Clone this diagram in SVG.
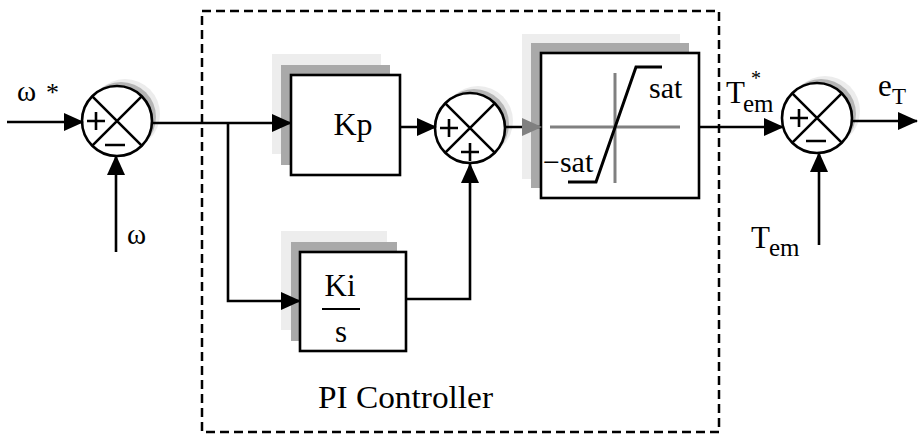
<svg xmlns="http://www.w3.org/2000/svg" width="918" height="434" viewBox="0 0 918 434">
<style>
.ln{fill:none;stroke:#000;stroke-width:2.6}
.box{fill:#fff;stroke:#000;stroke-width:2.6}
.sh1{fill:#ededed;stroke:none}
.sh2{fill:#a9a9a9;stroke:none}
.cs1{fill:#ececec;stroke:none}
.cs2{fill:#b5b5b5;stroke:none}
.sum{fill:#fff;stroke:#000;stroke-width:2.6}
.t{font-family:"Liberation Serif","Times New Roman",serif;fill:#000}
.ax{stroke:#808080;stroke-width:3;fill:none}
</style>
<defs>
<marker id="ah" markerUnits="userSpaceOnUse" markerWidth="20" markerHeight="18" refX="19" refY="9" orient="auto">
<path d="M0,0 L20,9 L0,18 z" fill="#000"/>
</marker>
<marker id="ahg" markerUnits="userSpaceOnUse" markerWidth="20" markerHeight="18" refX="19" refY="9" orient="auto">
<path d="M0,0 L20,9 L0,18 z" fill="#808080"/>
</marker>
</defs>
<rect x="0" y="0" width="918" height="434" fill="#fff"/>

<g id="pi-frame">
<rect x="202" y="11" width="517" height="421" fill="none" stroke="#000" stroke-width="2.5" stroke-dasharray="9,5"/>
<text class="t" x="318" y="408" font-size="31" textLength="175" lengthAdjust="spacingAndGlyphs">PI Controller</text>
</g>

<g id="sum1">
<circle class="cs1" cx="125" cy="114" r="35"/>
<circle class="cs2" cx="121" cy="117" r="35"/>
<circle class="sum" cx="117" cy="121" r="35"/>
<path class="ln" d="M92.3,96.3 L141.7,145.7 M141.7,96.3 L92.3,145.7"/>
<path class="ln" d="M87,121 H105 M96,112 V130 M105,145 H125"/>
</g>

<g id="kp">
<rect class="sh1" x="272" y="54" width="109" height="100"/>
<rect class="sh2" x="281" y="65" width="109" height="100"/>
<rect class="box" x="291" y="75" width="109" height="100"/>
<text class="t" x="353" y="135" font-size="32" text-anchor="middle">Kp</text>
</g>

<g id="ki">
<rect class="sh1" x="281" y="231" width="106" height="99"/>
<rect class="sh2" x="291" y="242" width="106" height="99"/>
<rect class="box" x="300" y="252" width="106" height="99"/>
<text class="t" x="340" y="296" font-size="31" text-anchor="middle">Ki</text>
<line x1="322" y1="309" x2="360" y2="309" stroke="#000" stroke-width="2.2"/>
<text class="t" x="341" y="342" font-size="31" text-anchor="middle">s</text>
</g>

<g id="sum2">
<circle class="cs1" cx="478" cy="121" r="35"/>
<circle class="cs2" cx="474" cy="124" r="35"/>
<circle class="sum" cx="470" cy="128" r="35"/>
<path class="ln" d="M445.3,103.3 L494.7,152.7 M494.7,103.3 L445.3,152.7"/>
<path class="ln" d="M440,128 H458 M449,119 V137 M461,152 H479 M470,143 V161"/>
</g>

<g id="sat">
<rect class="sh1" x="522" y="34" width="158" height="145"/>
<rect class="sh2" x="531" y="43" width="158" height="145"/>
<rect class="box" x="541" y="53" width="158" height="145"/>
<line class="ax" x1="550" y1="127" x2="680" y2="127"/>
<line class="ax" x1="615" y1="73" x2="615" y2="183"/>
<path d="M568,182 H596 L636,67 H662" fill="none" stroke="#000" stroke-width="3"/>
<text class="t" x="649" y="98" font-size="30">sat</text>
<text class="t" x="543" y="172" font-size="30">−sat</text>
</g>

<g id="sum3">
<circle class="cs1" cx="825" cy="111" r="35"/>
<circle class="cs2" cx="821" cy="114" r="35"/>
<circle class="sum" cx="817" cy="118" r="35"/>
<path class="ln" d="M792.3,93.3 L841.7,142.7 M841.7,93.3 L792.3,142.7"/>
<path class="ln" d="M790,118 H808 M799,109 V127 M806,141 H826"/>
</g>

<g id="connectors">
<path class="ln" d="M7,122 H83" marker-end="url(#ah)"/>
<path class="ln" d="M116,252 V156" marker-end="url(#ah)"/>
<path class="ln" d="M152,123 H291" marker-end="url(#ah)"/>
<path class="ln" d="M228,123 V301 H300" marker-end="url(#ah)"/>
<path class="ln" d="M400,127 H436" marker-end="url(#ah)"/>
<path class="ln" d="M406,299 H470 V164" marker-end="url(#ah)"/>
<path class="ln" d="M505,127 H541" marker-end="url(#ahg)"/>
<path class="ln" d="M699,127 H783" marker-end="url(#ah)"/>
<path class="ln" d="M819,245 V153" marker-end="url(#ah)"/>
<path class="ln" d="M852,121 H917" marker-end="url(#ah)"/>
</g>

<g id="labels">
<text class="t" x="17" y="101" font-size="29">ω</text>
<text class="t" x="46" y="101" font-size="26">*</text>
<text class="t" x="127" y="244" font-size="29">ω</text>
<text class="t" x="726" y="103" font-size="31">T</text>
<text class="t" x="743" y="112" font-size="25">em</text>
<text class="t" x="751" y="85" font-size="20">*</text>
<text class="t" x="878" y="96" font-size="31">e</text>
<text class="t" x="892" y="104" font-size="23">T</text>
<text class="t" x="751" y="248" font-size="31">T</text>
<text class="t" x="769" y="256" font-size="25">em</text>
</g>
</svg>
